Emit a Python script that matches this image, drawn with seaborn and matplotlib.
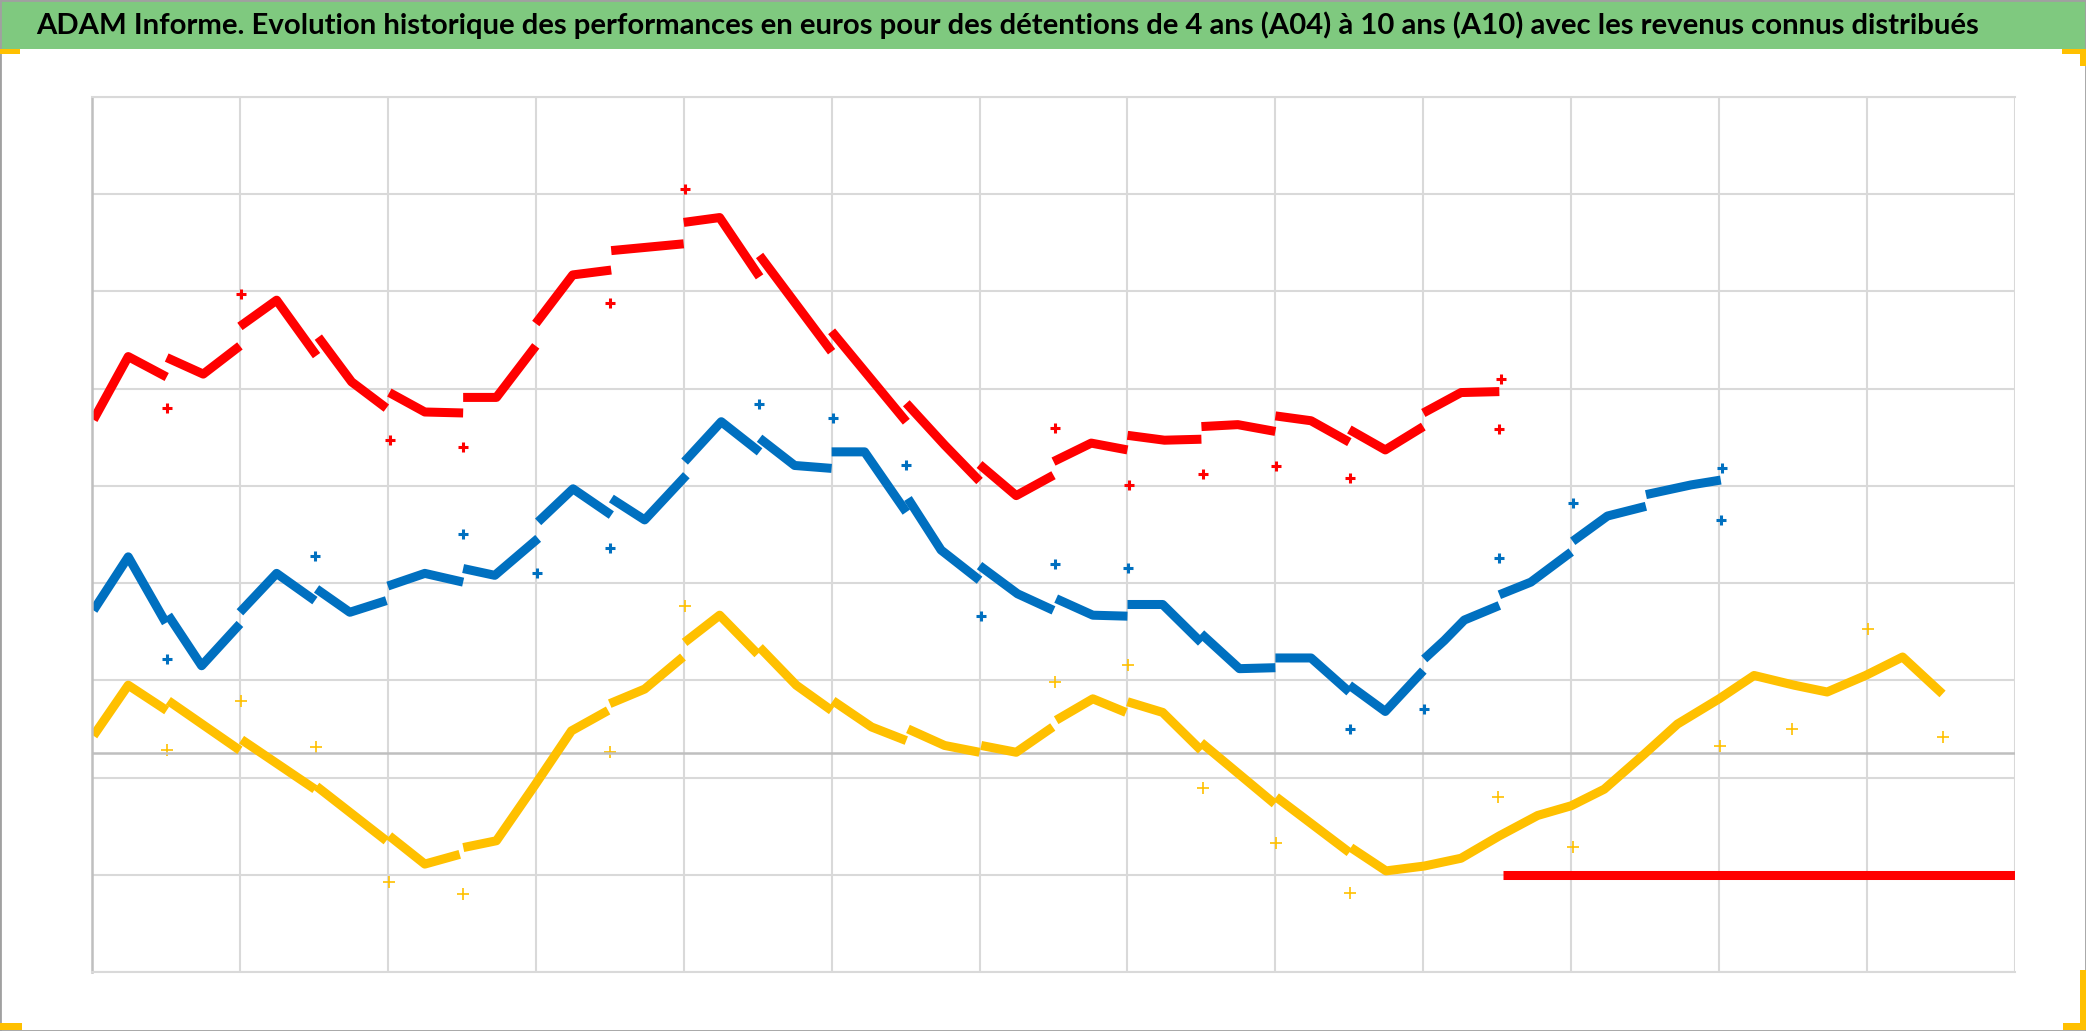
import numpy as np
import pandas as pd
import matplotlib
matplotlib.use("Agg")
import matplotlib.pyplot as plt
import seaborn as sns
from matplotlib.patches import Rectangle

# valeurs (x = années depuis le début, y = milliers d'euros)
titre = ("ADAM Informe. Evolution historique des performances en euros pour des détentions "
         "de 4 ans (A04) à 10 ans (A10) avec les revenus connus distribués")

# segments continus (les sauts = revenus distribués)
rouge_segments = [
    [(0.01, 3.43), (0.245, 4.08), (0.505, 3.87)],
    [(0.505, 4.07), (0.752, 3.90), (1.0, 4.19)],
    [(1.0, 4.39), (1.248, 4.66), (1.518, 4.09)],
    [(1.53, 4.28), (1.755, 3.82), (1.99, 3.55)],
    [(2.01, 3.71), (2.25, 3.51), (2.509, 3.50)],
    [(2.509, 3.66), (2.734, 3.66), (3.0, 4.19)],
    [(3.0, 4.42), (3.25, 4.92), (3.51, 4.97)],
    [(3.51, 5.17), (4.0, 5.24)],
    [(4.0, 5.46), (4.243, 5.51), (4.513, 4.90)],
    [(4.513, 5.12), (5.0, 4.13)],
    [(5.0, 4.34), (5.505, 3.41)],
    [(5.505, 3.60), (5.764, 3.17), (6.0, 2.80)],
    [(6.0, 2.97), (6.248, 2.65), (6.5, 2.86)],
    [(6.5, 3.00), (6.755, 3.19), (7.0, 3.12)],
    [(7.0, 3.27), (7.25, 3.22), (7.5, 3.23)],
    [(7.5, 3.36), (7.746, 3.38), (8.0, 3.31)],
    [(8.0, 3.47), (8.241, 3.42), (8.5, 3.20)],
    [(8.5, 3.33), (8.743, 3.12), (9.0, 3.36)],
    [(9.0, 3.50), (9.255, 3.71), (9.514, 3.72)],
    [(9.54, -1.25), (13.0, -1.25)],
]
bleu_segments = [
    [(0.01, 1.47), (0.245, 2.02), (0.50, 1.34)],
    [(0.515, 1.42), (0.741, 0.90), (1.0, 1.33)],
    [(1.0, 1.45), (1.248, 1.85), (1.507, 1.57)],
    [(1.518, 1.69), (1.743, 1.45), (1.99, 1.57)],
    [(2.0, 1.72), (2.25, 1.85), (2.509, 1.76)],
    [(2.509, 1.90), (2.723, 1.83), (3.016, 2.21)],
    [(3.016, 2.38), (3.252, 2.72), (3.511, 2.45)],
    [(3.511, 2.62), (3.736, 2.40), (4.018, 2.86)],
    [(4.006, 3.00), (4.254, 3.41), (4.513, 3.10)],
    [(4.513, 3.24), (4.75, 2.96), (5.0, 2.93)],
    [(5.0, 3.10), (5.223, 3.10), (5.505, 2.48)],
    [(5.516, 2.62), (5.74, 2.09), (6.0, 1.78)],
    [(6.0, 1.93), (6.257, 1.64), (6.5, 1.47)],
    [(6.518, 1.59), (6.766, 1.42), (7.0, 1.41)],
    [(7.0, 1.53), (7.238, 1.53), (7.498, 1.14)],
    [(7.498, 1.23), (7.757, 0.87), (8.0, 0.88)],
    [(8.0, 0.98), (8.241, 0.98), (8.5, 0.63)],
    [(8.5, 0.70), (8.743, 0.43), (9.0, 0.85)],
    [(9.006, 0.97), (9.142, 1.16), (9.277, 1.37), (9.514, 1.52)],
    [(9.514, 1.63), (9.727, 1.76), (10.0, 2.07)],
    [(10.01, 2.18), (10.245, 2.44), (10.505, 2.54)],
    [(10.505, 2.66), (10.81, 2.76), (11.011, 2.81)],
]
jaune_segments = [
    [(0.01, 0.18), (0.245, 0.70), (0.505, 0.44)],
    [(0.516, 0.54), (1.0, 0.03)],
    [(1.011, 0.14), (1.507, -0.37)],
    [(1.518, -0.34), (1.99, -0.90)],
    [(2.01, -0.85), (2.25, -1.14), (2.486, -1.04)],
    [(2.51, -0.97), (2.734, -0.90), (2.993, -0.33), (3.241, 0.23), (3.489, 0.44)],
    [(3.50, 0.51), (3.736, 0.66), (3.995, 0.99)],
    [(4.006, 1.14), (4.243, 1.42), (4.50, 1.02)],
    [(4.513, 1.09), (4.761, 0.70), (5.0, 0.44)],
    [(5.009, 0.54), (5.27, 0.27), (5.505, 0.13)],
    [(5.516, 0.25), (5.764, 0.08), (6.0, 0.01)],
    [(6.011, 0.08), (6.248, 0.01), (6.495, 0.27)],
    [(6.518, 0.34), (6.766, 0.56), (6.99, 0.42)],
    [(7.0, 0.53), (7.238, 0.42), (7.498, 0.03)],
    [(7.498, 0.11), (7.995, -0.52)],
    [(8.005, -0.45), (8.5, -1.02)],
    [(8.51, -0.97), (8.748, -1.21), (9.007, -1.16), (9.255, -1.08), (9.514, -0.85),
     (9.773, -0.64), (10.0, -0.54), (10.223, -0.37), (10.493, -0.01), (10.718, 0.30),
     (11.0, 0.56), (11.236, 0.80), (11.507, 0.70), (11.73, 0.63), (11.99, 0.80),
     (12.24, 0.99), (12.51, 0.61)],
]

# points isolés (valeurs avec revenus)
rouge_pts_x = [0.509, 1.007, 2.014, 2.509, 3.504, 4.006, 6.507, 7.009, 7.51, 8.005, 8.505, 9.525, 9.514]
rouge_pts_y = [3.55, 4.72, 3.22, 3.15, 4.63, 5.80, 3.35, 2.76, 2.87, 2.95, 2.83, 3.85, 3.34]
bleu_pts_x = [0.509, 1.507, 2.509, 3.011, 3.504, 4.509, 5.009, 5.505, 6.011, 6.507, 7.007, 8.505,
              9.007, 9.509, 10.01, 11.016, 11.011]
bleu_pts_y = [0.97, 2.03, 2.26, 1.85, 2.11, 3.59, 3.45, 2.97, 1.41, 1.95, 1.91, 0.25,
              0.46, 2.01, 2.57, 2.93, 2.40]
jaune_pts_x = [0.509, 1.007, 1.514, 2.007, 2.509, 3.504, 4.006, 6.507, 7.007, 7.51, 8.005, 8.505,
               9.504, 10.01, 11.005, 11.49, 12.006, 12.51]
jaune_pts_y = [0.03, 0.54, 0.06, -1.32, -1.45, 0.01, 1.51, 0.73, 0.91, -0.36, -0.92, -1.44,
               -0.45, -0.96, 0.07, 0.25, 1.28, 0.17]

ROUGE, BLEU, JAUNE = "#FF0000", "#0070C0", "#FFC000"


def to_frame(segments):
    rows = []
    for i, seg in enumerate(segments):
        for x, y in seg:
            rows.append({"x": x, "y": y, "seg": i})
    return pd.DataFrame(rows)


sns.set_theme(style="white")
plt.rcParams['font.family'] = ['Lato', 'DejaVu Sans']

W, H = 2086, 1031
fig = plt.figure(figsize=(W / 100, H / 100), dpi=100)
ax = fig.add_axes([92 / W, 1 - 972 / H, (2015 - 92) / W, (972 - 97) / H])

# lignes
for segs, c in [(jaune_segments, JAUNE), (bleu_segments, BLEU), (rouge_segments, ROUGE)]:
    sns.lineplot(data=to_frame(segs), x="x", y="y", units="seg", estimator=None, sort=False,
                 color=c, lw=6.5, ax=ax, legend=False, solid_capstyle="butt")

# points isolés
sns.scatterplot(x=rouge_pts_x, y=rouge_pts_y, marker="+", s=60, linewidth=2.2, color=ROUGE, ax=ax)
sns.scatterplot(x=bleu_pts_x, y=bleu_pts_y, marker="+", s=60, linewidth=2.2, color=BLEU, ax=ax)
sns.scatterplot(x=jaune_pts_x, y=jaune_pts_y, marker="+", s=80, linewidth=1.2, color=JAUNE, ax=ax)

# axes / grille
y_min, y_max = -2.25, 6.75
ax.set_xlim(0, 13)
ax.set_ylim(y_min, y_max)
ax.set_xticks(np.arange(0, 14))
ax.set_yticks(np.arange(y_min, y_max + 0.01, 1.0))
ax.grid(True, color="#D9D9D9", lw=1.5)
ax.set_axisbelow(True)
ax.tick_params(length=0, labelbottom=False, labelleft=False)
ax.set_xlabel("")
ax.set_ylabel("")
ax.axhline(0, color="#BFBFBF", lw=1.8, zorder=1)
for side in ["top", "bottom"]:
    ax.spines[side].set_color("#D9D9D9")
    ax.spines[side].set_linewidth(1.5)
ax.spines["left"].set_color("#BFBFBF")
ax.spines["left"].set_linewidth(1.8)
ax.spines["right"].set_visible(False)

# bandeau titre
fig.add_artist(Rectangle((0, 1 - 49 / H), 1, 49 / H, transform=fig.transFigure,
                         facecolor="#7FC97F", edgecolor="none"))
fig.text(36 / W, 1 - 25 / H, titre, ha="left", va="center", fontsize=21.1,
         fontweight="bold", color="black")

# cadre et poignées de sélection
fig.add_artist(Rectangle((0, 0), 1, 1, transform=fig.transFigure, fill=False,
                         edgecolor="#A0A0A0", lw=2))
for (x0, y0, w, h) in [(0, 49, 20, 5), (2062, 49, 24, 5), (2080, 49, 6, 17),
                       (0, 1023, 22, 7), (2063, 1023, 23, 7), (2080, 970, 6, 60)]:
    fig.add_artist(Rectangle((x0 / W, 1 - (y0 + h) / H), w / W, h / H,
                             transform=fig.transFigure, facecolor=JAUNE, edgecolor="none"))

fig.savefig("out.png", dpi=100)
